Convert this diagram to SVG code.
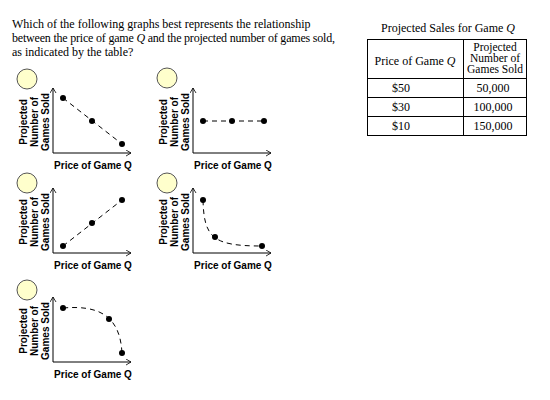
<svg xmlns="http://www.w3.org/2000/svg" width="550" height="400" viewBox="0 0 550 400">
<style>
.q{font-family:"Liberation Serif","Times New Roman",serif;font-size:12px;fill:#000}
.t{font-family:"Liberation Serif","Times New Roman",serif;font-size:12px;fill:#000}
.h{font-family:"Liberation Serif","Times New Roman",serif;font-size:11.5px;fill:#000}
.lbl{font-family:"Liberation Sans",Arial,sans-serif;font-size:10px;font-weight:bold;fill:#000}
.ax{stroke:#000;stroke-width:1;fill:none;marker-end:url(#arr)}
.dash{stroke:#000;stroke-width:1;fill:none;stroke-dasharray:5,4}
.dot{fill:#000}
.bub{fill:#FFFFCC;stroke:#555;stroke-width:1}
.tb{stroke:#000;stroke-width:1;fill:none}
</style>
<defs>
<marker id="arr" markerUnits="userSpaceOnUse" markerWidth="8" markerHeight="8" refX="5" refY="3" orient="auto">
<path d="M0,0 L5,3 L0,6" fill="none" stroke="#000" stroke-width="0.8"/>
</marker>
<g id="axes">
<line class="ax" x1="0" y1="0" x2="0" y2="-65"/>
<line class="ax" x1="0" y1="0" x2="78" y2="0"/>
<text class="lbl" text-anchor="middle" transform="translate(-26,-31) rotate(-90)">Projected</text>
<text class="lbl" text-anchor="middle" transform="translate(-15,-31) rotate(-90)">Number of</text>
<text class="lbl" text-anchor="middle" transform="translate(-4,-31) rotate(-90)">Games Sold</text>
<text class="lbl" text-anchor="middle" x="40" y="16">Price of Game Q</text>
</g>
</defs>

<g id="question">
<text class="q" x="12" y="28">Which of the following graphs best represents the relationship</text>
<text class="q" x="12" y="42" letter-spacing="-0.2">between the price of game <tspan font-style="italic">Q</tspan> and the projected number of games sold,</text>
<text class="q" x="12" y="56">as indicated by the table?</text>
</g>

<g id="table">
<text class="t" x="448" y="32" text-anchor="middle">Projected Sales for Game <tspan font-style="italic">Q</tspan></text>
<rect class="tb" x="367.5" y="39.5" width="159" height="96"/>
<line class="tb" x1="463.5" y1="39.5" x2="463.5" y2="135.5"/>
<line class="tb" x1="367.5" y1="78.5" x2="526.5" y2="78.5"/>
<line class="tb" x1="367.5" y1="97.5" x2="526.5" y2="97.5"/>
<line class="tb" x1="367.5" y1="116.5" x2="526.5" y2="116.5"/>
<text class="t" x="415" y="65" text-anchor="middle">Price of Game <tspan font-style="italic">Q</tspan></text>
<text class="h" x="495" y="51" text-anchor="middle">Projected</text>
<text class="h" x="495" y="62" text-anchor="middle">Number of</text>
<text class="h" x="495" y="73" text-anchor="middle">Games Sold</text>
<text class="t" x="392" y="92">$50</text>
<text class="t" x="392" y="111">$30</text>
<text class="t" x="392" y="130">$10</text>
<text class="t" x="493" y="92" text-anchor="middle">50,000</text>
<text class="t" x="493" y="111" text-anchor="middle">100,000</text>
<text class="t" x="493" y="130" text-anchor="middle">150,000</text>
</g>

<g id="graphA" transform="translate(53,153)">
<circle class="bub" cx="-26" cy="-74" r="10"/>
<use href="#axes"/>
<line class="dash" x1="10" y1="-55" x2="69" y2="-9"/>
<circle class="dot" cx="10" cy="-55" r="3"/>
<circle class="dot" cx="39" cy="-32" r="3"/>
<circle class="dot" cx="69" cy="-9" r="3"/>
</g>

<g id="graphB" transform="translate(193,153)">
<circle class="bub" cx="-26" cy="-75" r="10"/>
<use href="#axes"/>
<line class="dash" x1="10" y1="-32" x2="71" y2="-32"/>
<circle class="dot" cx="10" cy="-32" r="3"/>
<circle class="dot" cx="39" cy="-32" r="3"/>
<circle class="dot" cx="71" cy="-32" r="3"/>
</g>

<g id="graphC" transform="translate(53,253)">
<circle class="bub" cx="-26" cy="-70" r="10"/>
<use href="#axes"/>
<line class="dash" x1="10" y1="-7" x2="69" y2="-53"/>
<circle class="dot" cx="10" cy="-7" r="3"/>
<circle class="dot" cx="39" cy="-30" r="3"/>
<circle class="dot" cx="69" cy="-53" r="3"/>
</g>

<g id="graphD" transform="translate(193,253)">
<circle class="bub" cx="-26" cy="-70" r="10"/>
<use href="#axes"/>
<path class="dash" d="M10,-53 C11,-15 20,-7 69,-7"/>
<circle class="dot" cx="10" cy="-53" r="3"/>
<circle class="dot" cx="22" cy="-16" r="3"/>
<circle class="dot" cx="69" cy="-7" r="3"/>
</g>

<g id="graphE" transform="translate(53,362)">
<circle class="bub" cx="-26" cy="-72" r="10"/>
<use href="#axes"/>
<path class="dash" d="M10,-54 C45,-57 67,-47 69,-9"/>
<circle class="dot" cx="10" cy="-54" r="3"/>
<circle class="dot" cx="56" cy="-43" r="3"/>
<circle class="dot" cx="69" cy="-9" r="3"/>
</g>
</svg>
